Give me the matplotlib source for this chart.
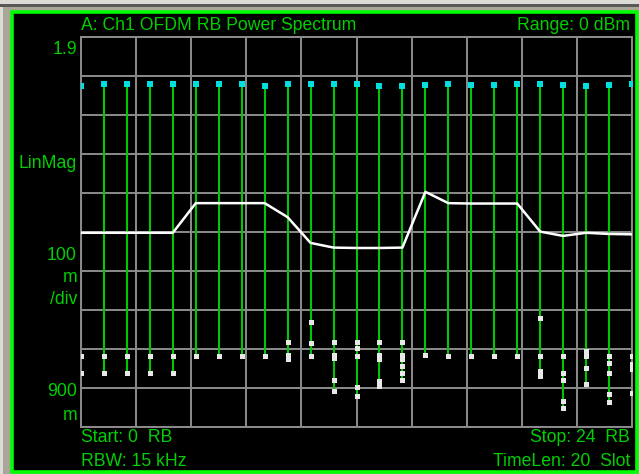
import matplotlib.pyplot as plt
from matplotlib.patches import Rectangle

plt.rcParams['font.family'] = ['Liberation Sans', 'DejaVu Sans']

W, H = 639, 474

# resource blocks 0..24
rb = list(range(25))

# peak (cyan) marker per RB
top_vals = [1.775, 1.779, 1.779, 1.779, 1.779, 1.779, 1.779, 1.779, 1.774,
            1.779, 1.779, 1.779, 1.779, 1.774, 1.774, 1.776, 1.779, 1.776,
            1.776, 1.779, 1.779, 1.776, 1.775, 1.776, 1.779]

# other slot values per RB (white markers)
low_vals = [
    [1.082, 1.038],
    [1.082, 1.038],
    [1.082, 1.038],
    [1.082, 1.038],
    [1.082, 1.038],
    [1.082],
    [1.082],
    [1.082],
    [1.082],
    [1.119, 1.085, 1.074],
    [1.170, 1.116, 1.082],
    [1.119, 1.085, 1.076, 1.021, 0.992],
    [1.119, 1.103, 1.082, 1.003, 0.979],
    [1.119, 1.085, 1.074, 1.018, 1.006],
    [1.119, 1.085, 1.074, 1.056, 1.038, 1.021],
    [1.085],
    [1.082],
    [1.082],
    [1.082],
    [1.082],
    [1.180, 1.082, 1.044, 1.032],
    [1.082, 1.038, 1.021, 0.967, 0.950],
    [1.095, 1.086, 1.083, 1.052, 1.009],
    [1.082, 1.063, 1.038, 0.984, 0.963],
    [1.082, 1.062, 1.049, 0.986],
]

# average trace
avg_vals = [1.398, 1.398, 1.398, 1.398, 1.398, 1.474, 1.474, 1.474, 1.474,
            1.438, 1.372, 1.360, 1.359, 1.359, 1.360, 1.503, 1.474, 1.473,
            1.473, 1.473, 1.401, 1.390, 1.398, 1.395, 1.394]

GREEN_TXT = '#00d000'
GRID = '#8c8c8c'

fig = plt.figure(figsize=(W / 100, H / 100), dpi=100, facecolor='#dcdad4')


def frame_rect(x0, y0, x1, y1, **kw):
    # rectangle given in pixel coords from the top-left corner
    fig.patches.append(Rectangle((x0 / W, 1 - y1 / H), (x1 - x0) / W,
                                 (y1 - y0) / H, transform=fig.transFigure,
                                 **kw))


frame_rect(0, 4, W, 7, facecolor='#585858', linewidth=0, zorder=-12)
frame_rect(3, 7, W, H, facecolor='#a9a599', linewidth=0, zorder=-12)
frame_rect(11.5, 12, 637, 472, facecolor='black', edgecolor='#00ff00',
           linewidth=2.6, zorder=-10)

ax = fig.add_axes([81 / W, 1 - 427 / H, 551 / W, 390 / H])
ax.set_zorder(5)
ax.set_facecolor('black')
ax.set_xlim(0, 24)
ax.set_ylim(0.9, 1.9)
ax.set_xticks([24 * i / 10 for i in range(11)])
ax.set_yticks([0.9 + 0.1 * i for i in range(11)])
ax.grid(True, color=GRID, linewidth=1.4, zorder=0)
ax.tick_params(length=0, labelbottom=False, labelleft=False)
for s in ax.spines.values():
    s.set_color(GRID)
    s.set_linewidth(1.4)

for i in rb:
    vals = low_vals[i]
    ax.vlines(i, min(vals), top_vals[i], color='#00c800', linewidth=1.5, zorder=2)
    ax.plot([i] * len(vals), vals, 's', color='#e8e8e8', markersize=3.6,
            markeredgewidth=0, zorder=3)
ax.plot(rb, top_vals, 's', color='#00e0e0', markersize=4.2,
        markeredgewidth=0, zorder=3)
ax.plot(rb, avg_vals, color='white', linewidth=1.8, zorder=4)


def txt(x, y, s, ha='left'):
    fig.text(x / W, 1 - y / H, s, ha=ha, va='center', color=GREEN_TXT,
             fontsize=12.7, zorder=6)


txt(81, 26, 'A: Ch1 OFDM RB Power Spectrum')
txt(630, 26, 'Range: 0 dBm', ha='right')
txt(77, 50, '1.9', ha='right')
txt(77, 164, 'LinMag', ha='right')
txt(77, 255, '100', ha='right')
txt(77, 278, 'm', ha='right')
txt(77, 300, '/div', ha='right')
txt(77, 392, '900', ha='right')
txt(77, 415, 'm', ha='right')
txt(81, 438, 'Start: 0  RB')
txt(81, 461, 'RBW: 15 kHz')
txt(630, 438, 'Stop: 24  RB', ha='right')
txt(630, 461, 'TimeLen: 20  Slot', ha='right')

fig.savefig('out.png', dpi=100, facecolor=fig.get_facecolor())
